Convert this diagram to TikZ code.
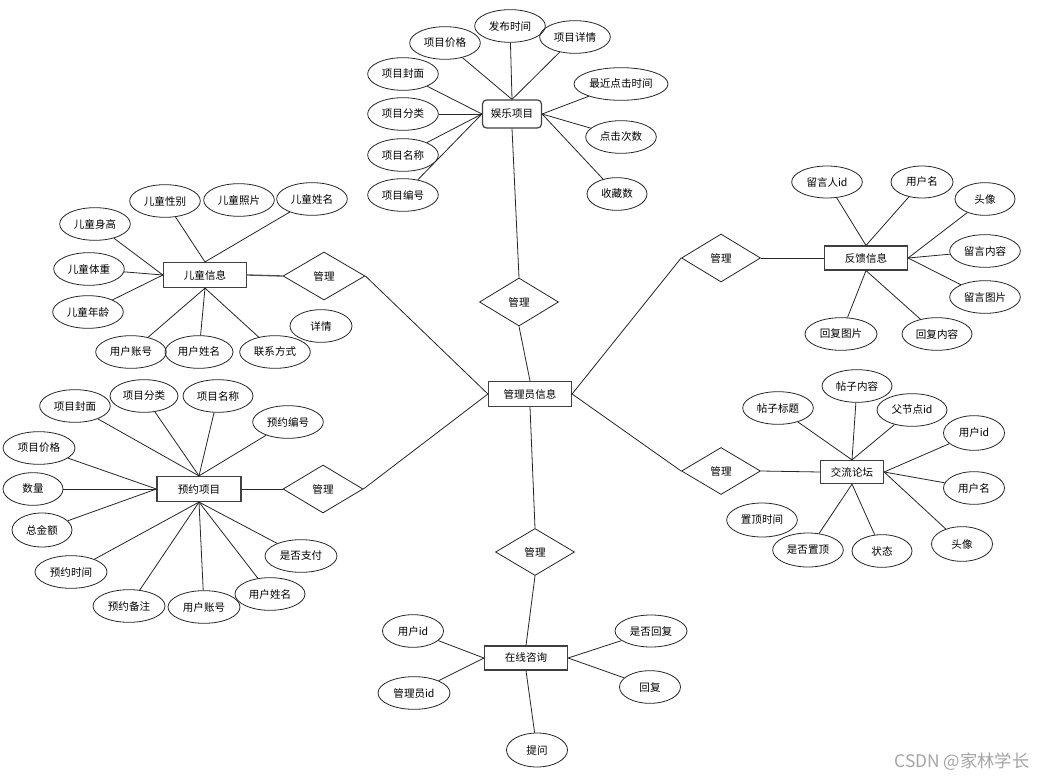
\documentclass[tikz,border=0pt]{standalone}
\usepackage{fontspec}
\newfontfamily\cjk{Noto Sans CJK SC}
\usetikzlibrary{shapes.geometric}
\begin{document}
\begin{tikzpicture}[x=0.75pt,y=-0.75pt,
 every node/.style={font=\cjk\fontsize{7.9}{9}\selectfont},
 attr/.style={ellipse,draw=black!85,line width=0.6pt,minimum width=53pt,minimum height=24.5pt,inner sep=0pt},
 ent/.style={rectangle,draw=black!75,line width=0.9pt,minimum width=62.25pt,minimum height=18.75pt,inner sep=0pt},
 rel/.style={diamond,draw=black!85,line width=0.6pt,minimum width=59.25pt,minimum height=36pt,inner sep=0pt},
 link/.style={draw=black!85,line width=0.6pt}]
\useasboundingbox[fill=white] (0,0) rectangle (1041,780);

% central
\node[ent] (adm) at (530,394) {管理员信息};

% ===== 娱乐项目 =====
\node[ent,rounded corners=3pt,minimum width=44.25pt,minimum height=21pt] (yl) at (512,114) {娱乐项目};
\node[attr] (y1) at (445,43) {项目价格};
\node[attr] (y2) at (510,26) {发布时间};
\node[attr] (y3) at (575,37) {项目详情};
\node[attr] (y4) at (403,74) {项目封面};
\node[attr,minimum width=70.5pt] (y5) at (621,84) {最近点击时间};
\node[attr] (y6) at (403,114) {项目分类};
\node[attr] (y7) at (621,137) {点击次数};
\node[attr] (y8) at (403,155) {项目名称};
\node[attr] (y9) at (403,195) {项目编号};
\node[attr,minimum width=45pt] (y10) at (617,194) {收藏数};
\draw[link] (yl.north) -- (y1);
\draw[link] (yl.north) -- (y2);
\draw[link] (yl.north) -- (y3);
\draw[link] (yl.west) -- (y4);
\draw[link] (yl.west) -- (y6);
\draw[link] (yl.west) -- (y8);
\draw[link] (yl.west) -- (y9);
\draw[link] (yl.east) -- (y5);
\draw[link] (yl.east) -- (y7);
\draw[link] (yl.east) -- (y10);
\node[rel] (r1) at (519,302) {管理};
\draw[link] (yl.south) -- (r1.north);
\draw[link] (r1.south) -- (adm.north);

% ===== 儿童信息 =====
\node[ent] (et) at (205,275) {儿童信息};
\node[attr] (e1) at (165,201) {儿童性别};
\node[attr] (e2) at (239,200) {儿童照片};
\node[attr] (e3) at (312,199) {儿童姓名};
\node[attr] (e4) at (95,224) {儿童身高};
\node[attr] (e5) at (89,269) {儿童体重};
\node[attr] (e6) at (88,312) {儿童年龄};
\node[attr] (e7) at (131,352) {用户账号};
\node[attr,minimum width=51pt] (e8) at (199,352) {用户姓名};
\node[attr] (e9) at (275,352) {联系方式};
\node[attr,minimum width=46.5pt] (e10) at (321,326) {详情};
\draw[link] (et.north) -- (e1);
\draw[link] (et.north) -- (e3);
\draw[link] (et.west) -- (e4);
\draw[link] (et.west) -- (e5);
\draw[link] (et.west) -- (e6);
\draw[link] (et.south) -- (e7);
\draw[link] (et.south) -- (e8);
\draw[link] (et.south) -- (e9);
\node[rel,minimum width=61.5pt] (r2) at (324,276) {管理};
\draw[link,line width=1pt,draw=black!70] (et.east) -- (r2.west);
\draw[link] (r2.east) -- (adm.west);

% ===== 预约项目 =====
\node[ent,minimum width=63pt] (yy) at (199,489) {预约项目};
\node[attr] (p1) at (75,406) {项目封面};
\node[attr,minimum width=51pt] (p2) at (144,396) {项目分类};
\node[attr,minimum width=52.5pt] (p3) at (218,396) {项目名称};
\node[attr] (p4) at (288,422) {预约编号};
\node[attr,minimum width=54pt] (p5) at (39,448) {项目价格};
\node[attr,minimum width=45pt] (p6) at (33,489) {数量};
\node[attr,minimum width=45pt,minimum height=25.5pt] (p7) at (42,530) {总金额};
\node[attr,minimum width=54pt] (p8) at (71,572) {预约时间};
\node[attr,minimum width=54pt] (p9) at (129,606) {预约备注};
\node[attr,minimum width=54pt] (p10) at (204,607) {用户账号};
\node[attr,minimum width=52.5pt] (p11) at (270,594) {用户姓名};
\node[attr,minimum width=54pt] (p12) at (301,556) {是否支付};
\draw[link] (yy.north) -- (p1);
\draw[link] (yy.north) -- (p2);
\draw[link] (yy.north) -- (p3);
\draw[link] (yy.north) -- (p4);
\draw[link] (yy.west) -- (p5);
\draw[link] (yy.west) -- (p6);
\draw[link] (yy.west) -- (p7);
\draw[link] (yy.south) -- (p8);
\draw[link] (yy.south) -- (p9);
\draw[link] (yy.south) -- (p10);
\draw[link] (yy.south) -- (p11);
\draw[link] (yy.south) -- (p12);
\node[rel,minimum width=60pt] (r3) at (323,489) {管理};
\draw[link] (yy.east) -- (r3.west);
\draw[link] (r3.east) -- (adm.west);

% ===== 反馈信息 =====
\node[ent,minimum height=18pt] (fk) at (866,258) {反馈信息};
\node[attr,minimum height=24pt] (f1) at (827,182) {留言人id};
\node[attr,minimum width=46.5pt,minimum height=24pt] (f2) at (922,182) {用户名};
\node[attr,minimum width=45pt] (f3) at (985,199) {头像};
\node[attr] (f4) at (985,251) {留言内容};
\node[attr] (f5) at (985,297) {留言图片};
\node[attr,minimum width=54pt] (f6) at (841,334) {回复图片};
\node[attr,minimum width=52.5pt] (f7) at (937,334) {回复内容};
\draw[link] (fk.north) -- (f1);
\draw[link] (fk.north) -- (f2);
\draw[link] (fk.east) -- (f3);
\draw[link] (fk.east) -- (f4);
\draw[link] (fk.east) -- (f5);
\draw[link] (fk.south) -- (f6);
\draw[link] (fk.south) -- (f7);
\node[rel] (r4) at (721,258) {管理};
\draw[link] (r4.east) -- (fk.west);
\draw[link] (r4.west) -- (adm.east);

% ===== 交流论坛 =====
\node[ent,minimum width=47.25pt,minimum height=17.25pt] (lt) at (852,472) {交流论坛};
\node[attr,minimum width=52.5pt] (l1) at (857,386) {帖子内容};
\node[attr] (l2) at (778,408) {帖子标题};
\node[attr,minimum width=52.5pt] (l3) at (912,410) {父节点id};
\node[attr,minimum width=45.75pt,minimum height=26pt] (l4) at (974,433) {用户id};
\node[attr,minimum width=45.75pt] (l5) at (974,488) {用户名};
\node[attr,minimum width=45.75pt,minimum height=26pt] (l6) at (962,544) {头像};
\node[attr,minimum width=45pt] (l7) at (882,551) {状态};
\node[attr,minimum width=53pt,minimum height=25.5pt] (l8) at (808,550) {是否置顶};
\node[attr,minimum height=25.5pt] (l9) at (762,520) {置顶时间};
\draw[link] (lt.north) -- (l1);
\draw[link] (lt.north) -- (l2);
\draw[link] (lt.north) -- (l3);
\draw[link] (lt.east) -- (l4);
\draw[link] (lt.east) -- (l5);
\draw[link] (lt.east) -- (l6);
\draw[link] (lt.south) -- (l7);
\draw[link] (lt.south) -- (l8);
\node[rel,minimum height=35.25pt] (r5) at (721,471) {管理};
\draw[link] (r5.east) -- (lt.west);
\draw[link] (r5.west) -- (adm.east);

% ===== 在线咨询 =====
\node[rel,minimum height=35.25pt] (r6) at (535,552) {管理};
\draw[link] (adm.south) -- (r6.north);
\node[ent,minimum height=18pt] (zx) at (526,658) {在线咨询};
\draw[link] (r6.south) -- (zx.north);
\node[attr,minimum width=45.75pt] (z1) at (413,631) {用户id};
\node[attr,minimum width=54pt] (z2) at (414,693) {管理员id};
\node[attr,minimum width=54pt,minimum height=24pt] (z3) at (651,631) {是否回复};
\node[attr,minimum width=45.75pt] (z4) at (650,687) {回复};
\node[attr,minimum width=45.75pt,minimum height=25.5pt] (z5) at (537,750) {提问};
\draw[link] (zx.west) -- (z1);
\draw[link] (zx.west) -- (z2);
\draw[link] (zx.east) -- (z3);
\draw[link] (zx.east) -- (z4);
\draw[link] (zx.south) -- (z5);

% watermark
\node[font=\cjk\fontsize{13}{15}\selectfont,text=black!35] (wm) at (962,762) {CSDN @家林学长};
\end{tikzpicture}
\end{document}
